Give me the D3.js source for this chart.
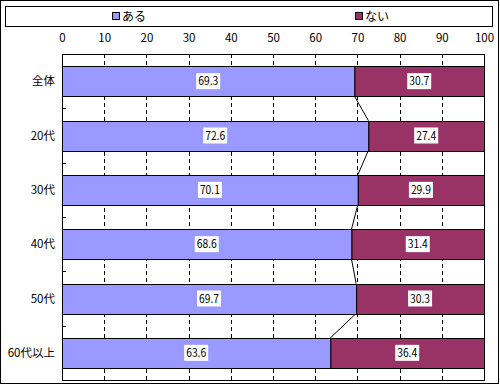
<!DOCTYPE html>
<html lang="ja">
<head>
<meta charset="UTF-8">
<title>chart</title>
<style>
  body { margin: 0; background: #fff; }
  text { font-family: "Noto Sans CJK JP", "DejaVu Sans", sans-serif; }
</style>
</head>
<body>
<div id="svg"></div>
<script src="https://d3js.org/d3.v7.min.js"></script>
<script>
  const categories = ['全体', '20代', '30代', '40代', '50代', '60代以上']
  const aru = [69.3, 72.6, 70.1, 68.6, 69.7, 63.6]
  const nai = [30.7, 27.4, 29.9, 31.4, 30.3, 36.4]
  const seriesNames = ['ある', 'ない']
  const colors = ['#9999ff', '#993366']
  const xTicks = [0, 10, 20, 30, 40, 50, 60, 70, 80, 90, 100]

  const width = 500
  const height = 385
  const plot = { left: 62, right: 484, top: 54, bottom: 380 }

  const svg = d3.select('#svg').append('svg').attr('width', width).attr('height', height)

  // outer frame
  svg.append('rect').attr('x', 0.5).attr('y', 0.5).attr('width', 498).attr('height', 383)
    .attr('fill', '#fff').attr('stroke', '#000')

  // legend box
  svg.append('rect').attr('x', 5.5).attr('y', 6.5).attr('width', 487).attr('height', 20)
    .attr('fill', '#fff').attr('stroke', '#000')
  const legendX = [112, 355]
  seriesNames.forEach((name, i) => {
    svg.append('rect').attr('x', legendX[i] + 0.5).attr('y', 12.5).attr('width', 7).attr('height', 7)
      .attr('fill', colors[i]).attr('stroke', '#000')
    svg.append('text').attr('x', legendX[i] + 10).attr('y', 21).attr('font-size', 12).text(name)
  })

  const xScale = d3.scaleLinear().domain([0, 100]).range([plot.left, plot.right])
  const yScale = d3.scaleBand().domain(categories).range([plot.top, plot.bottom]).paddingInner(0.45).paddingOuter(0.225)

  // gridlines
  svg.append('g').selectAll('line').data(xTicks.slice(1, -1)).enter().append('line')
    .attr('x1', d => Math.round(xScale(d)) + 0.5).attr('x2', d => Math.round(xScale(d)) + 0.5)
    .attr('y1', plot.top).attr('y2', plot.bottom)
    .attr('stroke', '#000').attr('stroke-dasharray', '4,3')

  // plot border
  svg.append('rect').attr('x', plot.left + 0.5).attr('y', plot.top + 0.5)
    .attr('width', plot.right - plot.left).attr('height', plot.bottom - plot.top)
    .attr('fill', 'none').attr('stroke', '#000')

  // top axis labels
  const xAxis = d3.axisTop(xScale).tickValues(xTicks).tickSize(0).tickPadding(0)
  const gX = svg.append('g').attr('transform', `translate(0,${42})`).call(xAxis)
  gX.select('.domain').remove()
  gX.selectAll('text').attr('font-size', 11.5).attr('fill', '#000')
    .style('font-family', '"Noto Sans CJK JP", sans-serif')

  // left axis ticks at band boundaries
  const step = yScale.step()
  const boundaries = d3.range(1, categories.length).map(i => plot.top + yScale.paddingOuter() * step + i * step - yScale.paddingInner() * step / 2)
  svg.append('g').selectAll('line').data(boundaries).enter().append('line')
    .attr('x1', plot.left).attr('x2', plot.left + 4)
    .attr('y1', d => Math.round(d) + 0.5).attr('y2', d => Math.round(d) + 0.5)
    .attr('stroke', '#000')

  // category labels
  svg.append('g').selectAll('text').data(categories).enter().append('text')
    .attr('x', 55).attr('y', d => yScale(d) + yScale.bandwidth() / 2)
    .attr('dy', '0.36em').attr('text-anchor', 'end').attr('font-size', 11.5).text(d => d)

  // series lines
  const lineData = d3.range(categories.length - 1).map(i => [
    [xScale(aru[i]), yScale(categories[i]) + yScale.bandwidth()],
    [xScale(aru[i + 1]), yScale(categories[i + 1])]
  ])
  svg.append('g').selectAll('line').data(lineData).enter().append('line')
    .attr('x1', d => d[0][0]).attr('y1', d => d[0][1]).attr('x2', d => d[1][0]).attr('y2', d => d[1][1])
    .attr('stroke', '#000')

  // bars
  const rows = categories.map((c, i) => ({ cat: c, vals: [aru[i], nai[i]] }))
  const segs = []
  rows.forEach(r => {
    let x0 = 0
    r.vals.forEach((v, j) => { segs.push({ cat: r.cat, x0: x0, x1: x0 + v, v: v, j: j }); x0 += v })
  })
  svg.append('g').selectAll('rect').data(segs).enter().append('rect')
    .attr('x', d => xScale(d.x0) + 0.5).attr('width', d => xScale(d.x1) - xScale(d.x0))
    .attr('y', d => Math.round(yScale(d.cat)) + 0.5).attr('height', Math.round(yScale.bandwidth()))
    .attr('fill', d => colors[d.j]).attr('stroke', '#000')

  // value labels
  const lbl = svg.append('g').selectAll('g').data(segs).enter().append('g')
    .attr('transform', d => `translate(${xScale((d.x0 + d.x1) / 2)},${yScale(d.cat) + yScale.bandwidth() / 2})`)
  lbl.append('rect').attr('x', -12).attr('y', -8).attr('width', 24).attr('height', 16).attr('fill', '#fff')
  lbl.append('text').attr('text-anchor', 'middle').attr('dy', '0.36em').attr('font-size', 11.5)
    .attr('textLength', 20).attr('lengthAdjust', 'spacingAndGlyphs')
    .text(d => d.v.toFixed(1))
</script>
</body>
</html>
